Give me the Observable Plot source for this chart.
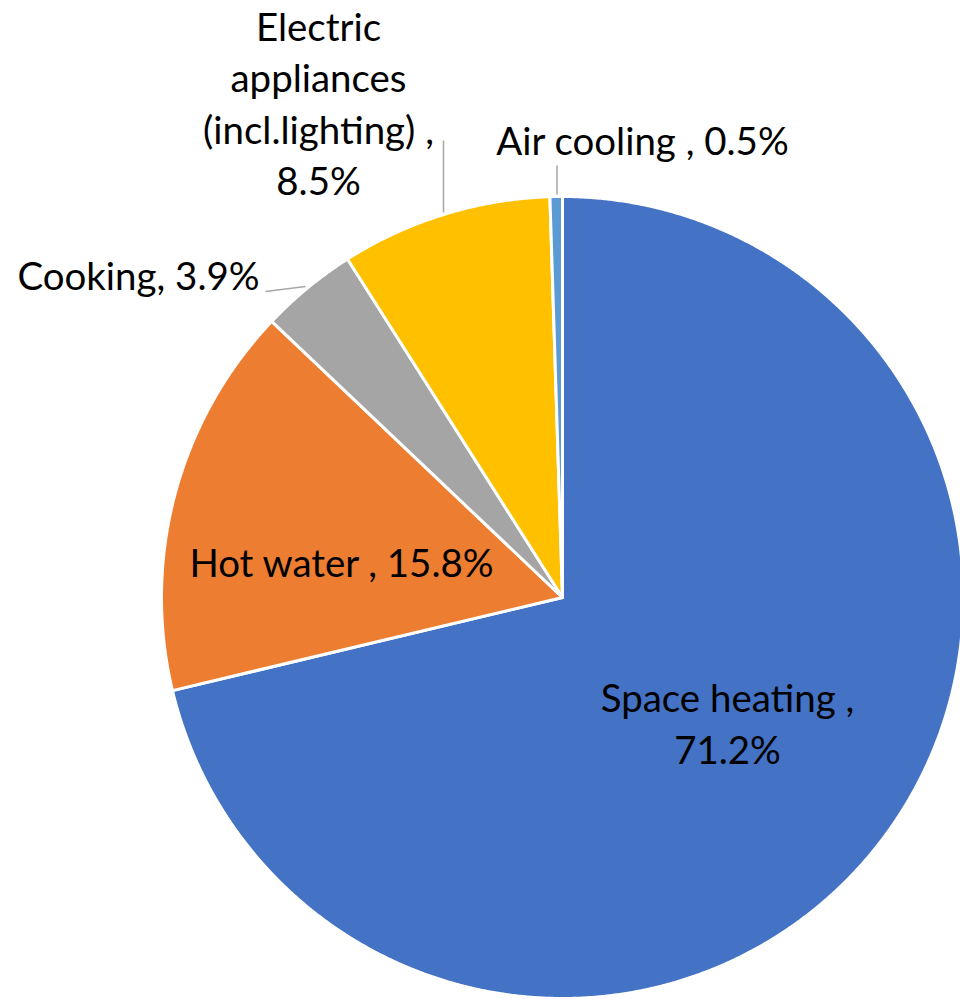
<!DOCTYPE html>
<html><head><meta charset="utf-8">
<script src="https://cdn.jsdelivr.net/npm/d3@7"></script>
<script src="https://cdn.jsdelivr.net/npm/@observablehq/plot@0.6"></script>
<style>html,body{margin:0;padding:0;background:#fff}#chart svg{display:block}</style>
</head><body><div id="chart"></div>
<script>
const categories = ["Space heating", "Hot water", "Cooking", "Electric appliances (incl.lighting)", "Air cooling"];
const shares = [71.2, 15.8, 3.9, 8.5, 0.5];
const colors = ["#4472C4", "#ED7D31", "#A5A5A5", "#FFC000", "#5B9BD5"];
const labelTexts = ["Space heating ,\n71.2%", "Hot water , 15.8%", "Cooking, 3.9%", "Electric\nappliances\n(incl.lighting) ,\n8.5%", "Air cooling , 0.5%"];

// layout
const W = 960, H = 999, CX = 562, CY = 597, R = 401;
const FONT = "Lato";
const ctx = document.createElement("canvas").getContext("2d");
ctx.font = `100px ${FONT}`;
const fit = (s, w) => 100 * w / ctx.measureText(s).width;
const fontSize = (fit("Air cooling , 0.5%", 296) + fit("Hot water , 15.8%", 306) + fit("Cooking, 3.9%", 240)) / 3;

// label anchors relative to pie center (y up)
const labelPos = [[165, -124], [-221, 37], [-424, 324], [-244, 496], [80, 459]];
const leaders = [
  {x1: -119, y1: 457, x2: -119, y2: 385},
  {x1: -5.5, y1: 432, x2: -5.5, y2: 403},
  {x1: -297, y1: 306, x2: -257, y2: 311}
];

const arcs = d3.pie().sort(null).value(d => d)(shares);
const pts = [];
arcs.forEach((a, i) => {
  const cat = categories[i];
  pts.push({cat, x: 0, y: 0});
  const n = Math.max(2, Math.ceil((a.endAngle - a.startAngle) / 0.004));
  for (let k = 0; k <= n; k++) {
    const t = a.startAngle + (a.endAngle - a.startAngle) * k / n;
    pts.push({cat, x: R * Math.sin(t), y: R * Math.cos(t)});
  }
});
const labels = categories.map((c, i) => ({cat: c, text: labelTexts[i], x: labelPos[i][0], y: labelPos[i][1]}));

const chart = Plot.plot({
  width: W, height: H, margin: 0,
  x: {domain: [-CX, W - CX], range: [0, W], axis: null},
  y: {domain: [CY - H, CY], range: [H, 0], axis: null},
  color: {domain: categories, range: colors},
  style: {fontFamily: FONT, background: "#fff"},
  marks: [
    Plot.line(pts, {x: "x", y: "y", z: "cat", fill: "cat", stroke: "#fff", strokeWidth: 3, strokeLinejoin: "round", curve: "linear-closed"}),
    Plot.link(leaders, {x1: "x1", y1: "y1", x2: "x2", y2: "y2", stroke: "#A6A6A6", strokeWidth: 1.5}),
    Plot.text(labels, {x: "x", y: "y", text: "text", fontSize: fontSize, lineHeight: 51.5 / fontSize, fill: "#000"})
  ]
});
document.getElementById("chart").appendChild(chart);
</script>
</body></html>
